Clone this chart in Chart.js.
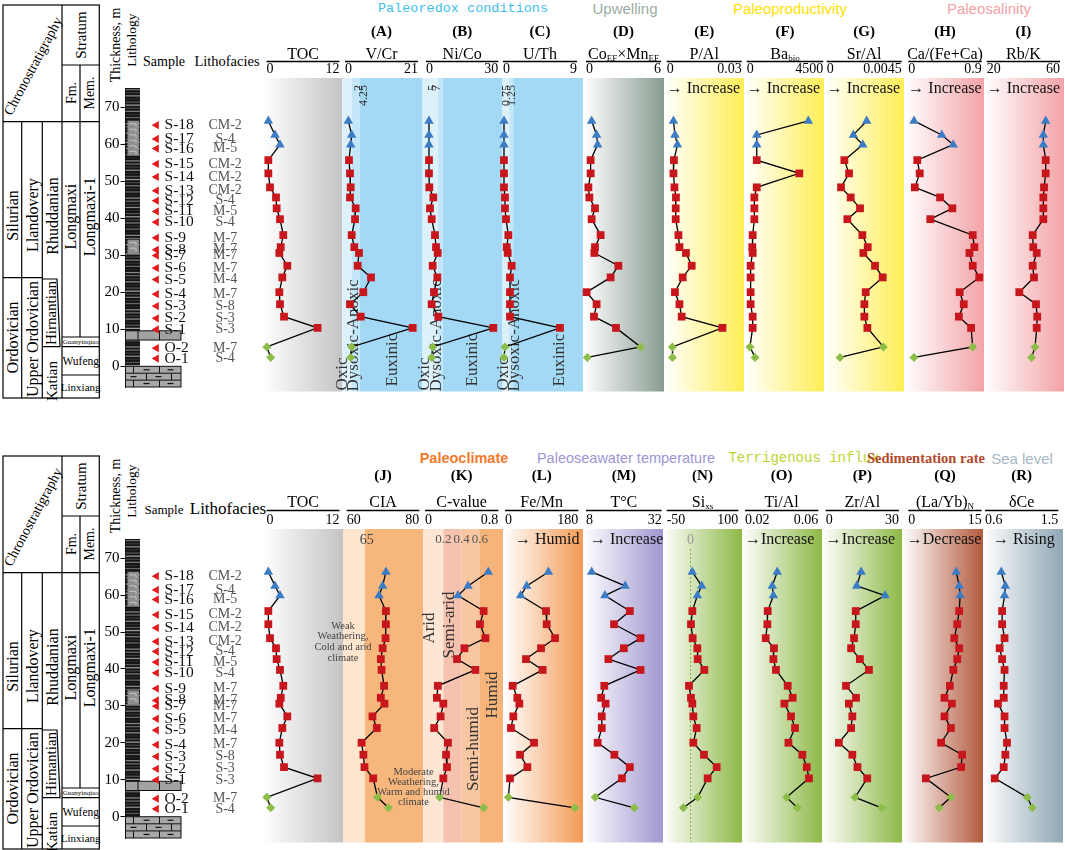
<!DOCTYPE html>
<html>
<head>
<meta charset="utf-8">
<title>Longmaxi geochemical profiles</title>
<script src="https://cdn.jsdelivr.net/npm/chart.js@4.4.1/dist/chart.umd.min.js"></script>
<style>
  html, body { margin: 0; padding: 0; background: #fff; }
  #page { position: relative; width: 1065px; height: 850px; overflow: hidden; }
  #page svg { position: absolute; left: 0; top: 0; }
  .cw { position: absolute; z-index: 2; }
  .cw canvas { display: block; }
</style>
</head>
<body>
<div id="page">
  <svg id="under" width="1065" height="850" style="z-index:1"></svg>
  <svg id="over" width="1065" height="850" style="z-index:10"></svg>
</div>
<script>
// samples, top of the section first
const samples = ['S-18','S-17','S-16','S-15','S-14','S-13','S-12','S-11','S-10','S-9','S-8','S-7','S-6','S-5','S-4','S-3','S-2','S-1','O-2','O-1'];
const depths = [64.1,60.5,58.0,54.0,50.6,47.0,44.4,41.6,38.8,34.7,31.6,30.1,26.8,23.8,20.0,16.9,13.7,10.8,5.9,3.2];
const lithofacies = ['CM-2','S-4','M-5','CM-2','CM-2','CM-2','S-4','M-5','S-4','M-7','M-7','M-7','M-7','M-4','M-7','S-8','S-3','S-3','M-7','S-4'];

// proxies
const toc = [0.30,1.40,2.22,0.30,0.30,0.58,1.56,1.67,2.22,2.76,2.34,2.11,3.42,2.60,2.11,2.22,2.88,8.39,0.05,0.69];
const vCr = [0.96,1.92,1.63,1.15,1.44,1.63,1.44,3.07,2.88,1.92,2.68,4.03,3.64,7.48,5.27,1.44,4.51,19.47,1.92,1.63];
const niCo = [1.24,1.24,1.24,1.24,1.24,1.38,3.04,1.66,2.35,3.73,4.15,4.84,2.77,4.70,3.32,2.35,5.12,27.94,2.77,2.35];
const uTh = [0.12,0.12,0.12,0.12,0.12,0.12,0.24,0.24,0.36,0.65,0.45,0.57,1.05,0.85,0.85,0.85,0.85,6.93,0.24,0.12];
const coMn = [0.45,0.85,0.93,0.37,0.37,0.19,0.27,0.72,0.45,1.17,0.72,0.67,2.59,1.97,0.05,0.85,0.64,2.40,4.37,0.11];
const pAl = [0.0027,0.0033,0.0043,0.0029,0.0027,0.0031,0.0037,0.0036,0.0036,0.0047,0.0051,0.0077,0.0100,0.0064,0.0033,0.0051,0.0060,0.0223,0.0023,0.0023];
const baBio = [3620,590,590,590,3090,590,450,450,450,350,330,350,230,230,230,230,350,350,190,490];
const srAl = [0.00240,0.00160,0.00216,0.00106,0.00134,0.00086,0.00144,0.00200,0.00124,0.00214,0.00246,0.00220,0.00290,0.00336,0.00234,0.00226,0.00226,0.00244,0.00340,0.00080];
const caFeCa = [0.07,0.41,0.55,0.11,0.14,0.08,0.39,0.54,0.27,0.79,0.81,0.75,0.79,0.87,0.63,0.68,0.62,0.77,0.79,0.07];
const rbK = [52.2,50.9,50.9,52.2,52.2,51.3,50.9,50.9,50.9,45.1,45.4,47.3,45.1,45.8,37.8,46.9,47.6,47.3,46.4,44.5];
const cia = [70.8,69.9,68.9,70.8,70.8,70.7,69.9,69.4,69.6,70.3,69.4,70.4,67.1,68.3,64.1,64.6,64.9,67.3,68.5,71.5];
const cValue = [0.69,0.47,0.36,0.64,0.60,0.66,0.43,0.35,0.55,0.14,0.13,0.20,0.17,0.10,0.25,0.23,0.24,0.20,0.16,0.64];
const feMn = [106.5,53.2,38.5,100.7,102.4,122.9,88.5,51.6,92.5,18.8,30.3,35.2,20.5,14.7,71.3,36.9,54.9,12.3,8.2,172.0];
const tempC = [9.8,20.4,14.0,21.9,16.9,25.3,20.0,15.1,25.3,13.8,12.8,14.2,13.0,13.0,11.7,17.0,21.9,19.4,10.9,23.3];
const siXs = [3.7,23.3,14.2,3.7,0.9,4.4,14.2,14.9,28.8,-3.3,0.9,3.7,5.8,12.8,5.8,28.1,54.7,35.8,14.9,-15.2];
const tiAl = [0.0376,0.0349,0.0355,0.0324,0.0322,0.0313,0.0358,0.0355,0.0369,0.0433,0.0460,0.0415,0.0451,0.0473,0.0437,0.0513,0.0537,0.0549,0.0427,0.0486];
const zrAl = [14.5,12.7,24.3,12.3,12.3,11.6,10.4,14.0,17.7,8.3,12.4,9.5,10.9,10.4,5.4,10.9,13.0,17.0,12.0,22.9];
const laYbN = [9.8,10.4,10.6,10.4,10.0,9.4,10.4,10.0,9.2,8.5,7.4,8.9,7.4,8.7,6.7,11.0,10.8,3.6,8.7,6.3];
const dCe = [0.80,0.85,0.84,0.81,0.81,0.84,0.78,0.81,0.84,0.83,0.83,0.76,0.84,0.84,0.87,0.85,0.83,0.72,1.12,1.18];

// axis end labels
const tocTicks = ['0','12'];
const vCrTicks = ['0','21'];
const niCoTicks = ['0','30'];
const uThTicks = ['0','9'];
const coMnTicks = ['0','6'];
const pAlTicks = ['0','0.03'];
const baTicks = ['0','4500'];
const srAlTicks = ['0','0.0045'];
const caTicks = ['0','0.9'];
const rbKTicks = ['20','60'];
const ciaTicks = ['60','80'];
const cValueTicks = ['0','0.8'];
const feMnTicks = ['0','180'];
const tempTicks = ['8','32'];
const siTicks = ['-50','100'];
const tiAlTicks = ['0.02','0.06'];
const zrAlTicks = ['0','30'];
const laYbTicks = ['0','15'];
const dCeTicks = ['0.6','1.5'];
const thicknessTicks = [0,10,20,30,40,50,60,70];

// thresholds used for the shaded fields
const vCrLimits = [2, 4.25];
const niCoLimits = [5, 7];
const uThLimits = [0.75, 1.25];
const ciaLimits = [65];
const cValueLimits = [0.2, 0.4, 0.6];

// lithology column (m)
const longmaxiBase = 9.6;
const guanyinqiaoBase = 7.1;
const wufengBase = 0;
const siltBeds = [[66.3, 56.9], [34.2, 30.4]];

const SERIF = "'Liberation Serif', 'Times New Roman', serif";
const SANS = "'Liberation Sans', Arial, sans-serif";
const MONO = "'Liberation Mono', 'DejaVu Sans Mono', monospace";

Chart.defaults.font.family = SERIF;
Chart.defaults.color = '#000';
Chart.defaults.animation = false;
Chart.defaults.plugins.legend.display = false;
Chart.defaults.plugins.tooltip.enabled = false;

const page = document.getElementById('page');
const HEAD = 66, MARGIN = 8;

const topRow = { top: 78, h: 319, yMin: -5.58, yMax: 75.16, letterDy: -46, titleDy: -23.5, lineDy: -16.5 };
const botRow = { top: 529, h: 319, yMin: -5.76, yMax: 75.19, letterDy: -52.5, titleDy: -26.5, lineDy: -18.5 };

const markerStyle = samples.map((s, i) => i < 3 ? 'triangle' : s[0] === 'O' ? 'rectRot' : 'rect');
const markerColor = markerStyle.map(m => m === 'triangle' ? '#3b7cc4' : m === 'rect' ? '#c8161d' : '#8cbd48');
const markerRadius = markerStyle.map(m => m === 'triangle' ? 5.5 : m === 'rect' ? 5.5 : 4.5);

function addCanvas(left, top, width, height) {
  const d = document.createElement('div');
  d.className = 'cw';
  d.style.left = left + 'px'; d.style.top = top + 'px';
  d.style.width = width + 'px'; d.style.height = height + 'px';
  const c = document.createElement('canvas');
  d.appendChild(c);
  page.appendChild(d);
  return c;
}

function drawTitle(ctx, parts, cx, cy) {
  const big = '16px ' + SERIF, small = '9px ' + SERIF;
  let w = 0;
  parts.forEach(([t, sub]) => { ctx.font = sub ? small : big; w += ctx.measureText(t).width; });
  let xx = cx - w / 2;
  ctx.textAlign = 'left';
  parts.forEach(([t, sub]) => {
    ctx.font = sub ? small : big;
    ctx.fillText(t, xx, sub ? cy + 4 : cy);
    xx += ctx.measureText(t).width;
  });
}

function redoxNotes(lims, topDx, botDx) {
  return [
    { t: lims[0], dx: topDx[0], y: 7, rot: true, align: 'right', size: 12, color: '#333' },
    { t: lims[1], dx: topDx[1], y: 7, rot: true, align: 'right', size: 12, color: '#333' },
    { t: 'Oxic', dx: botDx[0], yb: 1, rot: true, size: 17, color: '#333' },
    { t: 'Dysoxic-Anoxic', dx: botDx[1], yb: 0, rot: true, size: 17, color: '#333' },
    { t: 'Euxinic', dx: botDx[2], yb: 5, rot: true, size: 17, color: '#333' }
  ];
}
const arrowNote = (t, dx) => [{ t: t, dx: dx, y: 10.5, size: 16, color: '#111' }];

function decoPlugin(p) {
  return {
    id: 'deco',
    beforeDraw(chart) {
      const { ctx, chartArea: a } = chart;
      const x = chart.scales.x;
      const l = p.bg[0] - p.cl, r = p.bg[1] - p.cl, h = a.bottom - a.top;
      ctx.save();
      if (p.fill.bands) {
        const edges = [l].concat(p.fill.bands.map(v => x.getPixelForValue(v)), [r]);
        p.fill.colors.forEach((c, i) => { ctx.fillStyle = c; ctx.fillRect(edges[i], a.top, edges[i + 1] - edges[i], h); });
      } else {
        const g = ctx.createLinearGradient(l, 0, r, 0);
        g.addColorStop(0, '#ffffff');
        g.addColorStop(1, p.fill.color);
        ctx.fillStyle = g;
        ctx.fillRect(l, a.top, r - l, h);
      }
      const cx = (a.left + a.right) / 2;
      ctx.fillStyle = '#000';
      ctx.textBaseline = 'middle';
      if (p.letter) {
        ctx.font = 'bold 15px ' + SERIF; ctx.textAlign = 'center';
        ctx.fillText(p.letter, cx, a.top + p.row.letterDy);
      }
      drawTitle(ctx, p.title, cx, a.top + p.row.titleDy);
      ctx.strokeStyle = '#000'; ctx.lineWidth = 1.6;
      ctx.beginPath();
      ctx.moveTo(a.left, a.top + p.row.lineDy);
      ctx.lineTo(a.right, a.top + p.row.lineDy);
      ctx.stroke();
      ctx.restore();
    },
    beforeDatasetsDraw(chart) {
      const { ctx, chartArea: a } = chart;
      const x = chart.scales.x;
      ctx.save();
      if (p.zeroLine) {
        const zx = x.getPixelForValue(0);
        ctx.strokeStyle = '#7fae3a'; ctx.lineWidth = 1; ctx.setLineDash([2, 2]);
        ctx.beginPath(); ctx.moveTo(zx, a.top + 20); ctx.lineTo(zx, a.bottom); ctx.stroke();
        ctx.setLineDash([]);
      }
      (p.notes || []).forEach(n => {
        const px = (n.v !== undefined ? x.getPixelForValue(n.v) : a.left) + (n.dx || 0);
        const py = n.yb !== undefined ? a.bottom - n.yb : a.top + n.y;
        ctx.font = (n.size || 16) + 'px ' + SERIF;
        ctx.fillStyle = n.color || '#222';
        ctx.textAlign = n.align || 'left';
        ctx.textBaseline = 'middle';
        ctx.save();
        ctx.translate(px, py);
        if (n.rot) ctx.rotate(-Math.PI / 2);
        ctx.fillText(n.t, 0, 0);
        ctx.restore();
      });
      ctx.restore();
    }
  };
}

function makePanel(p) {
  const row = p.row;
  p.cl = Math.round(p.bg[0]) - MARGIN;
  const cr = Math.round(p.bg[1]) + MARGIN;
  const canvas = addCanvas(p.cl, row.top - HEAD, cr - p.cl, HEAD + row.h);
  const lo = Number(p.ticks[0]), hi = Number(p.ticks[1]);
  new Chart(canvas, {
    type: 'scatter',
    data: {
      datasets: [{
        data: p.values.map((v, i) => ({ x: v, y: depths[i] })),
        showLine: true,
        borderColor: '#000',
        borderWidth: 1.3,
        pointStyle: markerStyle,
        pointRadius: markerRadius,
        pointBackgroundColor: markerColor,
        pointBorderColor: markerColor,
        pointBorderWidth: 0,
        clip: false
      }]
    },
    options: {
      responsive: true,
      maintainAspectRatio: false,
      layout: { padding: { left: p.ax[0] - p.cl, right: cr - p.ax[1], top: 0, bottom: 0 } },
      scales: {
        x: {
          type: 'linear', position: 'top', min: lo, max: hi,
          grid: { display: false, drawTicks: false },
          border: { display: false },
          ticks: { align: 'inner', padding: 0, maxRotation: 0, autoSkip: false,
                   font: { size: 14 }, color: '#000', callback: (v, i) => p.ticks[i] },
          afterBuildTicks: s => { s.ticks = [{ value: lo }, { value: hi }]; },
          afterFit: s => { s.height = HEAD; }
        },
        y: { type: 'linear', min: row.yMin, max: row.yMax, display: false }
      }
    },
    plugins: [decoPlugin(p)]
  });
}

const lithoPlugin = {
  id: 'litho',
  beforeDatasetsDraw(chart) {
    const { ctx, chartArea: a } = chart;
    const y = chart.scales.y;
    const x0 = a.left, x1 = a.right, xw = a.left + 55.5;
    const yLm = y.getPixelForValue(longmaxiBase), yGq = y.getPixelForValue(guanyinqiaoBase), yWf = y.getPixelForValue(wufengBase);
    ctx.save();
    ctx.fillStyle = '#141414';
    ctx.fillRect(x0, a.top, x1 - x0, yWf - a.top);
    const shades = ['#6a6a6a', '#3a3a3a', '#8a8a8a', '#2c2c2c', '#555555', '#9a9a9a', '#444444', '#777777', '#303030', '#666666', '#222222', '#858585'];
    let k = 0;
    for (let yy = a.top + 1; yy < yWf - 1; yy += 3.1, k++) {
      ctx.fillStyle = shades[k % shades.length];
      ctx.fillRect(x0, yy, x1 - x0, 1.3);
    }
    siltBeds.forEach(([t, b]) => {
      const yt = y.getPixelForValue(t), yb = y.getPixelForValue(b);
      ctx.fillStyle = '#8e8e8e';
      ctx.fillRect(x0 + 2, yt, x1 - x0 - 3, yb - yt);
      ctx.strokeStyle = '#c6c6c6'; ctx.lineWidth = 1;
      for (let yy = yt + 3; yy < yb - 1; yy += 5.5) {
        ctx.beginPath(); ctx.moveTo(x0 + 4, yy); ctx.lineTo(x1 - 4, yy); ctx.lineTo(x1 - 4, yy + 3); ctx.stroke();
      }
    });
    // Guanyinqiao bed
    ctx.fillStyle = '#a2a2a2';
    ctx.fillRect(x0, yLm, xw - x0, yGq - yLm);
    ctx.strokeStyle = '#111'; ctx.lineWidth = 1;
    ctx.strokeRect(x0, yLm, xw - x0, yGq - yLm);
    [12.5, 34].forEach(dx => { ctx.beginPath(); ctx.moveTo(x0 + dx, yLm); ctx.lineTo(x0 + dx, yGq); ctx.stroke(); });
    // Linxiang limestone
    ctx.fillStyle = '#a8a8a8';
    ctx.fillRect(x0, yWf, xw - x0, a.bottom - yWf);
    ctx.strokeRect(x0, yWf, xw - x0, a.bottom - yWf);
    const rh = (a.bottom - yWf) / 3;
    for (let r = 1; r < 3; r++) {
      ctx.beginPath(); ctx.moveTo(x0, yWf + r * rh); ctx.lineTo(xw, yWf + r * rh); ctx.stroke();
    }
    [[0, 8], [0, 34], [1, 21], [1, 46], [2, 8], [2, 34]].forEach(([r, dx]) => {
      ctx.beginPath(); ctx.moveTo(x0 + dx, yWf + r * rh); ctx.lineTo(x0 + dx, yWf + (r + 1) * rh); ctx.stroke();
    });
    ctx.lineWidth = 1.2;
    [[0, 21], [0, 45], [1, 8], [1, 33], [2, 21], [2, 45]].forEach(([r, dx]) => {
      const yy = yWf + (r + 0.5) * rh;
      ctx.beginPath(); ctx.moveTo(x0 + dx - 3, yy); ctx.lineTo(x0 + dx + 3, yy); ctx.stroke();
    });
    ctx.restore();
  }
};

function makeLithology(row) {
  const canvas = addCanvas(100, row.top, 85, row.h);
  new Chart(canvas, {
    type: 'scatter',
    data: { datasets: [] },
    options: {
      responsive: true, maintainAspectRatio: false,
      layout: { padding: { left: 0, right: 45, top: 0, bottom: 0 } },
      scales: {
        x: { type: 'linear', min: 0, max: 1, display: false },
        y: {
          type: 'linear', position: 'left', min: row.yMin, max: row.yMax,
          afterFit: s => { s.width = 25.5; },
          afterBuildTicks: s => { s.ticks = thicknessTicks.map(v => ({ value: v })); },
          ticks: { font: { size: 15 }, color: '#000', padding: 1 },
          grid: { drawOnChartArea: false, drawTicks: true, tickLength: 5, color: '#000' },
          border: { display: true, color: '#000', width: 1 }
        }
      }
    },
    plugins: [lithoPlugin]
  });
}

const samplePlugin = {
  id: 'sampleLabels',
  afterDatasetsDraw(chart) {
    const { ctx } = chart;
    const x = chart.scales.x, y = chart.scales.y;
    ctx.save();
    ctx.textBaseline = 'middle';
    samples.forEach((s, i) => {
      const py = y.getPixelForValue(depths[i]);
      ctx.font = '15.5px ' + SERIF; ctx.fillStyle = '#111'; ctx.textAlign = 'left';
      ctx.fillText(s, x.getPixelForValue(0.17), py);
      ctx.font = '14px ' + SERIF; ctx.fillStyle = '#555'; ctx.textAlign = 'center';
      ctx.fillText(lithofacies[i], x.getPixelForValue(0.69), py);
    });
    ctx.restore();
  }
};

function makeSamples(row) {
  const canvas = addCanvas(140, row.top, 126, row.h);
  new Chart(canvas, {
    type: 'scatter',
    data: { datasets: [{
      data: depths.map(d => ({ x: 0.1, y: d })),
      pointStyle: 'triangle', pointRotation: -90, pointRadius: 4.8,
      pointBackgroundColor: '#e3191c', pointBorderWidth: 0, clip: false
    }] },
    options: {
      responsive: true, maintainAspectRatio: false,
      layout: { padding: 0 },
      scales: {
        x: { type: 'linear', min: 0, max: 1, display: false },
        y: { type: 'linear', min: row.yMin, max: row.yMax, display: false }
      }
    },
    plugins: [samplePlugin]
  });
}

const grad = c => ({ color: c });
const bands = (b, colors) => ({ bands: b, colors: colors });
const redoxColors = ['#ddf1fb', '#c3e7f8', '#a3d9f4'];
const yellow = '#ffee55', pink = '#f3a3a7', green = '#8db846';

const panels = [
  { row: topRow, bg: [262, 342], ax: [266.5, 339.5], title: [['TOC']], ticks: tocTicks, values: toc, fill: grad('#c4c4c4') },
  { row: topRow, bg: [342, 422.5], ax: [345, 418], letter: '(A)', title: [['V/Cr']], ticks: vCrTicks, values: vCr,
    fill: bands(vCrLimits, redoxColors), notes: redoxNotes(vCrLimits.map(String), [14, 19], [-2, 9, 48]) },
  { row: topRow, bg: [422.5, 502.5], ax: [426, 498.3], letter: '(B)', title: [['Ni/Co']], ticks: niCoTicks, values: niCo,
    fill: bands(niCoLimits, redoxColors), notes: redoxNotes(niCoLimits.map(String), [7, 11], [-1, 10.7, 47]) },
  { row: topRow, bg: [502.5, 583], ax: [503, 577], letter: '(C)', title: [['U/Th']], ticks: uThTicks, values: uTh,
    fill: bands(uThLimits, redoxColors), notes: redoxNotes(uThLimits.map(String), [3.5, 8.5], [0.3, 12, 57]) },
  { row: topRow, bg: [583, 664], ax: [586, 661], letter: '(D)', title: [['Co'], ['EF', 1], ['×Mn'], ['EF', 1]], ticks: coMnTicks, values: coMn, fill: grad('#899c92') },
  { row: topRow, bg: [664, 744], ax: [666.7, 741.7], letter: '(E)', title: [['P/Al']], ticks: pAlTicks, values: pAl, fill: grad(yellow), notes: arrowNote('→ Increase', 0) },
  { row: topRow, bg: [744, 824], ax: [746.7, 823.3], letter: '(F)', title: [['Ba'], ['bio', 1]], ticks: baTicks, values: baBio, fill: grad(yellow), notes: arrowNote('→ Increase', 0) },
  { row: topRow, bg: [824, 904], ax: [826.7, 901.7], letter: '(G)', title: [['Sr/Al']], ticks: srAlTicks, values: srAl, fill: grad(yellow), notes: arrowNote('→ Increase', 0) },
  { row: topRow, bg: [904, 984], ax: [908.3, 981.7], letter: '(H)', title: [['Ca/(Fe+Ca)']], ticks: caTicks, values: caFeCa, fill: grad(pink), notes: arrowNote('→ Increase', 0) },
  { row: topRow, bg: [984, 1064], ax: [986.7, 1060], letter: '(I)', title: [['Rb/K']], ticks: rbKTicks, values: rbK, fill: grad(pink), notes: arrowNote('→ Increase', 0) },

  { row: botRow, bg: [262, 343], ax: [266.5, 339.5], title: [['TOC']], ticks: tocTicks, values: toc, fill: grad('#c4c4c4') },
  { row: botRow, bg: [343, 423], ax: [346.7, 419.3], letter: '(J)', title: [['CIA']], ticks: ciaTicks, values: cia,
    fill: bands(ciaLimits, ['#fde5ce', '#f7b67b']), notes: [{ t: '65', v: 65, dx: 2, y: 11, align: 'center', size: 14, color: '#444' }] },
  { row: botRow, bg: [423, 503], ax: [425, 498.3], letter: '(K)', title: [['C-value']], ticks: cValueTicks, values: cValue,
    fill: bands(cValueLimits, ['#fde6d3', '#f6c2b0', '#f8c6a0', '#f6b47b']),
    notes: cValueLimits.map(v => ({ t: String(v), v: v, y: 11, align: 'center', size: 13, color: '#555' })).concat([
      { t: 'Arid', dx: 5, y: 99, rot: true, align: 'center', size: 17, color: '#333' },
      { t: 'Semi-arid', dx: 25, y: 96, rot: true, align: 'center', size: 17, color: '#333' },
      { t: 'Humid', dx: 68, y: 166, rot: true, align: 'center', size: 17, color: '#333' },
      { t: 'Semi-humid', dx: 49, y: 220, rot: true, align: 'center', size: 17, color: '#333' }
    ]) },
  { row: botRow, bg: [503, 583], ax: [505, 578.3], letter: '(L)', title: [['Fe/Mn']], ticks: feMnTicks, values: feMn, fill: grad('#f39a55'), notes: arrowNote('→ Humid', 10) },
  { row: botRow, bg: [583, 663], ax: [586, 661.7], letter: '(M)', title: [['T°C']], ticks: tempTicks, values: tempC, fill: grad('#a197d0'), notes: arrowNote('→ Increase', 4) },
  { row: botRow, bg: [663, 742], ax: [666.7, 738.3], letter: '(N)', title: [['Si'], ['xs', 1]], ticks: siTicks, values: siXs, fill: grad(green), zeroLine: true,
    notes: [{ t: '0', v: 0, y: 11, align: 'center', size: 14, color: '#999' }] },
  { row: botRow, bg: [742, 822], ax: [745, 818.3], letter: '(O)', title: [['Ti/Al']], ticks: tiAlTicks, values: tiAl, fill: grad(green), notes: arrowNote('→Increase', 0) },
  { row: botRow, bg: [822, 902], ax: [825.7, 899], letter: '(P)', title: [['Zr/Al']], ticks: zrAlTicks, values: zrAl, fill: grad(green), notes: arrowNote('→Increase', 0) },
  { row: botRow, bg: [902, 983], ax: [908.3, 981.7], letter: '(Q)', title: [['(La/Yb)'], ['N', 1]], ticks: laYbTicks, values: laYbN, fill: grad('#b35a3d'), notes: arrowNote('→Decrease', -1.5) },
  { row: botRow, bg: [983, 1063], ax: [985, 1058.3], letter: '(R)', title: [['δCe']], ticks: dCeTicks, values: dCe, fill: grad('#8fa6b4'), notes: arrowNote('→ Rising', 8) }
];

// ---- static parts: stratigraphic table, headers ----
function svgText(x, y, t, size, opts = {}) {
  const rot = opts.rot ? ` transform="rotate(${opts.rot} ${x} ${y})"` : '';
  const fam = opts.family || SERIF;
  const extra = opts.extra || '';
  return `<text x="${x}" y="${y}" font-size="${size}" font-family="${fam.replace(/"/g, '')}" fill="${opts.color || '#000'}"` +
    ` font-weight="${opts.bold ? 'bold' : 'normal'}" text-anchor="${opts.anchor || 'middle'}" dominant-baseline="central"${rot} ${extra}>${t}</text>`;
}

function stratTable(dy) {
  const lines = [], texts = [];
  const L = (x1, y1, x2, y2) => lines.push(`<line x1="${x1}" y1="${y1 + dy}" x2="${x2}" y2="${y2 + dy}"/>`);
  lines.push(`<rect x="3" y="${5 + dy}" width="96.3" height="393"/>`);
  L(3, 121.7, 99.3, 121.7);
  L(62, 5, 62, 398);
  L(62, 65, 99.3, 65);
  L(80, 65, 80, 337);
  L(21.7, 121.7, 21.7, 398);
  L(42.3, 121.7, 42.3, 398);
  L(3, 277.7, 42.3, 277.7);
  lines.push(`<polyline points="42.3,${279 + dy} 57,${279 + dy} 60,${346.7 + dy} 42.3,${346.7 + dy}"/>`);
  L(62, 337, 99.3, 337); L(62, 346.7, 99.3, 346.7); L(62, 375, 99.3, 375);
  const T = (x, y, t, size, rot, extra) => texts.push(svgText(x, y + dy, t, size, { rot: rot, extra: extra }));
  T(33, 66, 'Chronostratigraphy', 14, -62);
  T(80.7, 35, 'Stratum', 15, -90);
  T(71, 93, 'Fm.', 14, -90);
  T(89.7, 93, 'Mem.', 14, -90);
  T(12.3, 215.5, 'Silurian', 16, -90);
  T(12.3, 337.5, 'Ordovician', 16, -90);
  T(32, 215, 'Llandovery', 16, -90);
  T(32, 339, 'Upper Ordovician', 16, -90);
  T(52, 216, 'Rhuddanian', 16, -90);
  T(50.5, 313, 'Hirnantian', 15, -90);
  T(52, 381, 'Katian', 15, -90);
  T(71, 216.7, 'Longmaxi', 16, -90);
  T(89.7, 216.7, 'Longmaxi-1', 16, -90);
  T(80.7, 342, 'Guanyinqiao', 7, 0, 'textLength="36" lengthAdjust="spacingAndGlyphs"');
  T(80.7, 361, 'Wufeng', 11.5, 0);
  T(80.7, 387, 'Linxiang', 11, 0);
  T(115, 45, 'Thickness, m', 14, -90);
  T(131.5, 40, 'Lithology', 13.5, -90);
  return `<g stroke="#000" stroke-width="1.2" fill="none">${lines.join('')}</g>${texts.join('')}`;
}

const under = document.getElementById('under');
under.innerHTML = stratTable(0) + stratTable(451) +
  svgText(164, 61, 'Sample', 14) + svgText(227, 61, 'Lithofacies', 14.5) +
  svgText(164, 509, 'Sample', 13) + svgText(228, 508, 'Lithofacies', 17) +
  svgText(463, 8, 'Paleoredox conditions', 13.5, { family: MONO, color: '#3cbfea' }) +
  svgText(625, 8, 'Upwelling', 15, { family: SANS, color: '#9aaca2' }) +
  svgText(790, 8, 'Paleoproductivity', 15, { family: SANS, color: '#ffe100' }) +
  svgText(989, 8, 'Paleosalinity', 15, { family: SANS, color: '#f3a1a6' }) +
  svgText(464, 458, 'Paleoclimate', 14.5, { family: SANS, color: '#f47a2b', bold: true }) +
  svgText(626, 458, 'Paleoseawater temperature', 14.5, { family: SANS, color: '#9d95d2' }) +
  svgText(804, 458, 'Terrigenous influx', 14, { family: MONO, color: '#bdd430' }) +
  svgText(926, 458, 'Sedimentation rate', 14.5, { color: '#b3472b', bold: true }) +
  svgText(1022, 458, 'Sea level', 15, { family: SANS, color: '#a6b8c4' });

document.getElementById('over').innerHTML =
  ['Weak', 'Weathering,', 'Cold and arid', 'climate'].map((t, i) => svgText(343, 625 + i * 10.7, t, 10.5, { color: '#444' })).join('') +
  ['Moderate', 'Weathering,', 'Warm and humid', 'climate'].map((t, i) => svgText(413.5, 771 + i * 10.2, t, 10.5, { color: '#444' })).join('');

// ---- charts ----
[topRow, botRow].forEach(row => { makeLithology(row); makeSamples(row); });
panels.forEach(makePanel);
</script>
</body>
</html>
